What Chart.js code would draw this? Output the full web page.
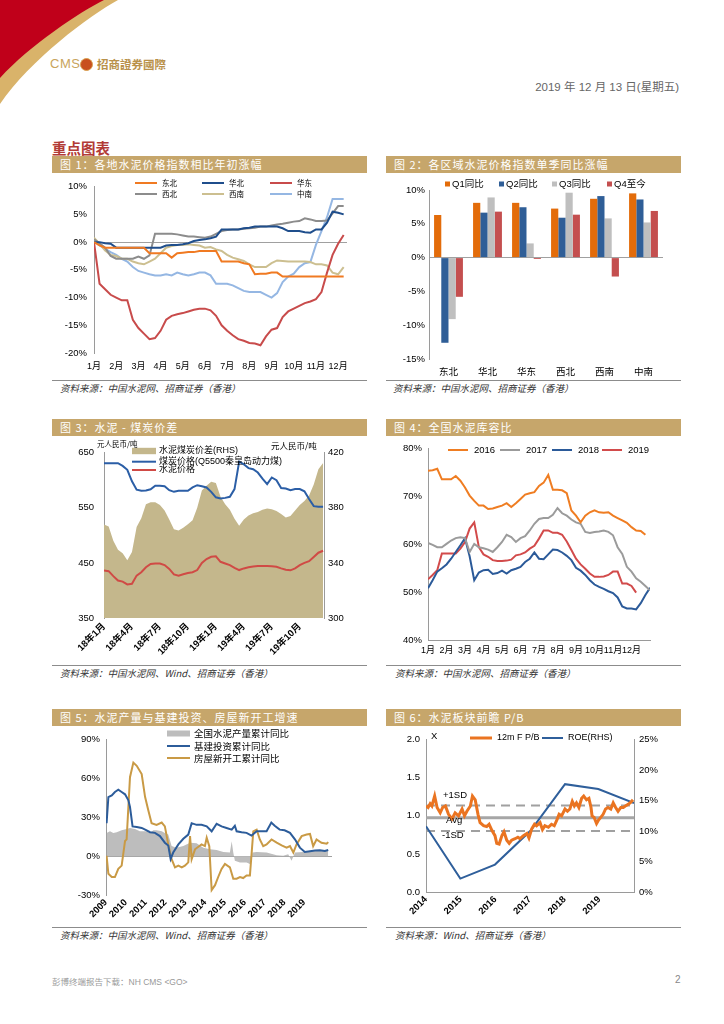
<!DOCTYPE html>
<html>
<head>
<meta charset="utf-8">
<script src="https://cdn.jsdelivr.net/npm/chart.js@4.4.1/dist/chart.umd.min.js"></script>
<style>
body{margin:0;width:724px;height:1024px;position:relative;background:#fff;overflow:hidden;font-family:"Liberation Sans","Noto Sans CJK SC",sans-serif}
.bar{position:absolute;height:17px;background:#C6A66B;color:#fff;font-size:11px;line-height:17px;padding-left:8px;box-sizing:border-box;letter-spacing:1px;font-family:"Noto Sans CJK SC",sans-serif}
.box{position:absolute}
.rule{position:absolute;height:0;border-top:1px solid #8c8c8c}
.src{position:absolute;font-size:9.5px;font-style:italic;color:#333;font-family:"Noto Sans CJK SC",sans-serif;white-space:nowrap}
.unit{position:absolute;font-family:"Noto Sans CJK SC",sans-serif;color:#000;white-space:nowrap}
</style>
</head>
<body>
<svg class="box" style="left:0;top:0" width="130" height="110">
  <path d="M0,0 L118,0 C90,15 30,60 0,104 Z" fill="#D9B36A"/>
  <path d="M0,0 L104,0 C80,12 30,45 0,78 Z" fill="#C0001A"/>
</svg>
<div class="box" style="left:50px;top:56px;font-size:13px;color:#C9A45C;letter-spacing:0.5px">CMS</div>
<div class="box" style="left:80px;top:58px;width:11px;height:11px;border-radius:50%;background:#C8501E;border:1px solid #D9A050"></div>
<div class="box" style="left:97px;top:56px;font-size:11.5px;font-weight:bold;color:#B9914A;font-family:'Noto Sans CJK SC',sans-serif">招商證券國際</div>
<div class="box" style="right:45px;top:78px;font-size:11.5px;color:#666">2019 年 12 月 13 日(星期五)</div>
<div class="box" style="left:52px;top:137px;font-size:14.5px;font-weight:bold;color:#B23B36;font-family:'Noto Sans CJK SC',sans-serif">重点图表</div>

<div class="bar" style="left:52px;top:156px;width:315px">图 1：各地水泥价格指数相比年初涨幅</div>
<div class="bar" style="left:386px;top:156px;width:295px">图 2：各区域水泥价格指数单季同比涨幅</div>
<div class="bar" style="left:52px;top:419px;width:315px">图 3：水泥 - 煤炭价差</div>
<div class="bar" style="left:386px;top:419px;width:295px">图 4：全国水泥库容比</div>
<div class="bar" style="left:52px;top:709px;width:315px">图 5：水泥产量与基建投资、房屋新开工增速</div>
<div class="bar" style="left:386px;top:709px;width:295px">图 6：水泥板块前瞻 P/B</div>

<div class="box" style="left:52px;top:174px;width:315px;height:204px"><canvas id="c1"></canvas></div>
<div class="box" style="left:386px;top:174px;width:295px;height:204px"><canvas id="c2"></canvas></div>
<div class="box" style="left:52px;top:437px;width:315px;height:226px"><canvas id="c3"></canvas></div>
<div class="box" style="left:386px;top:437px;width:295px;height:226px"><canvas id="c4"></canvas></div>
<div class="box" style="left:52px;top:728px;width:315px;height:197px"><canvas id="c5"></canvas></div>
<div class="box" style="left:386px;top:728px;width:295px;height:197px"><canvas id="c6"></canvas></div>

<div class="unit" style="left:97px;top:438px;font-size:7.5px">元人民币/吨</div>
<div class="unit" style="left:271px;top:439px;font-size:8.5px">元人民币/吨</div>

<div class="rule" style="left:52px;top:380px;width:315px"></div>
<div class="rule" style="left:386px;top:380px;width:295px"></div>
<div class="rule" style="left:52px;top:665px;width:315px"></div>
<div class="rule" style="left:386px;top:665px;width:295px"></div>
<div class="rule" style="left:52px;top:927px;width:315px"></div>
<div class="rule" style="left:386px;top:927px;width:295px"></div>
<div class="src" style="left:60px;top:381px">资料来源：中国水泥网、招商证券（香港）</div>
<div class="src" style="left:393px;top:381px">资料来源：中国水泥网、招商证券（香港）</div>
<div class="src" style="left:60px;top:666px">资料来源：中国水泥网、Wind、招商证券（香港）</div>
<div class="src" style="left:395px;top:666px">资料来源：中国水泥网、招商证券（香港）</div>
<div class="src" style="left:60px;top:928px">资料来源：中国水泥网、Wind、招商证券（香港）</div>
<div class="src" style="left:395px;top:928px">资料来源：Wind、招商证券（香港）</div>

<div class="box" style="left:52px;top:975px;font-size:8.5px;color:#999">彭博终端报告下载：NH CMS &lt;GO&gt;</div>
<div class="box" style="left:675px;top:974px;font-size:10px;color:#888">2</div>

<script>
// ---- chart 1: regional price index vs start of year (weekly, x in months)
const monthLabels = ['1月','2月','3月','4月','5月','6月','7月','8月','9月','10月','11月','12月'];
const weekStep = 0.25;
const dongbei = [0,-0.6,-1,-1,-1,-1,-1,-1,-1,-1,-2,-2,-2,-2,-2.8,-2,-1.9,-1.8,-1.8,-1.6,-1.6,-1.6,-1.6,-3.5,-3.5,-3.5,-3.5,-3.8,-4,-5.8,-5.7,-5.7,-5.5,-5.5,-6.2,-6.2,-6.2,-6.2,-6.2,-6.2,-6.2,-6.2,-6.2,-6.2,-6.2,-6.2];
const huabei = [0,0,-0.2,-0.3,-1,-1,-1,-1,-1,-1,-1,-1,-1,-0.6,-0.5,-0.5,-0.4,-0.2,0.2,0.4,0.5,0.7,1.0,2.3,2.3,2.3,2.3,2.5,2.6,2.8,2.8,2.8,2.8,2.8,2.5,2.0,2.0,2.0,1.8,1.7,2.3,2.3,3.5,5.5,5.3,5.0];
const huadong = [0,-7.5,-8.5,-9.5,-10,-10.5,-10.5,-14,-15.5,-16.5,-17.5,-17.3,-16,-14,-13.3,-13,-12.8,-12.5,-12.2,-12,-12,-12.3,-13.3,-15,-16,-16.8,-17.5,-17.8,-18.2,-18.3,-18.6,-17,-15.8,-15.5,-13.5,-12.5,-12,-11.5,-11,-10.7,-10.3,-9,-5.5,-2.3,-0.3,1.3];
const xibei = [0.5,-0.2,-1.0,-2.5,-3,-3,-3,-3,-2.6,-3,-2.4,1.5,1.5,1.5,1.5,1.4,1.2,1.0,1.0,0.9,0.8,1.0,1.5,2.0,2.2,2.3,2.3,2.4,2.5,2.6,2.8,2.8,3.0,3.2,3.3,3.5,3.7,3.8,4.3,4.1,3.8,3.8,3.9,5.2,6.5,6.5];
const xinan = [0.8,-0.3,-1.5,-2.3,-2.5,-3,-3,-3.5,-3.8,-4,-3.5,-3,-2,-1,-0.7,-0.5,-0.5,-0.4,-0.5,-0.6,-1,-0.9,-1.3,-1.6,-2.3,-2.8,-3.1,-3.4,-4.0,-4.5,-4.5,-4.5,-3.8,-3.3,-3.4,-3.5,-3.5,-3.5,-3.5,-3.6,-4,-4,-4.2,-5.5,-5.8,-4.5];
const zhongnan = [0.3,-0.6,-1.2,-1.8,-2.3,-3,-3.5,-4.5,-5.2,-5.5,-5.8,-6,-6,-5.8,-6,-5.5,-5.8,-6,-5.8,-5.5,-5.5,-6,-7.5,-7.5,-7.5,-7.8,-8.3,-8.8,-9,-9,-9,-9.5,-10,-9.2,-7.2,-6.2,-5.7,-4.5,-3.8,-3.6,-0.5,2,4.5,7.8,7.8,7.8];

// ---- chart 2: quarterly yoy by region
const regions = ['东北','华北','华东','西北','西南','中南'];
const quarterNames = ['Q1同比','Q2同比','Q3同比','Q4至今'];
const q1 = [6.3,8.1,8.1,7.25,8.7,9.5];
const q2 = [-12.6,6.65,7.45,5.9,9.1,8.6];
const q3 = [-9.1,8.9,2.1,9.6,5.8,5.2];
const q4 = [-5.8,6.8,-0.2,6.35,-2.8,6.9];

// ---- chart 3: cement - coal spread (half-monthly from Jan 2018)
const c3Ticks = ['18年1月','18年4月','18年7月','18年10月','19年1月','19年4月','19年7月','19年10月'];
const halfMonth = 0.5;
const spread = [367.8,366.5,356,349.5,347,342,348,366,372.5,382.5,384,384,382,378,371.5,364.5,363.5,365.5,368,371,380,392.5,396,399,398,388,382.5,378.5,372,367,371.5,374.5,376,377,378.5,379.5,379,377.6,375.5,373,374,378,382,385,389,397,408,412.5];
const coal = [631,631,631,631,626,619,598,583,581,581.5,583.5,590,590,589,582,579,581,581,581,587,591,589,587,579,569,567,568,570,584,634,629,622,620,614,603,593,605,600,586,585,582,584,584,580,566,553,552,552];
const cement = [436,435,426,418,416,411,412,427,433,442,448,449,449,446,439,429,426.6,429.5,431.5,433,437,450,457,461,462,452,449,446,441,437,440,442,443.5,444.2,444.2,444.2,444,443,440,437.5,436.5,440,446,450,453,460.7,468.5,472];

// ---- chart 4: national cement inventory ratio (weekly)
const yearNames = ['2016','2017','2018','2019'];
const inv2016 = [75.4,75.5,75.8,73.6,73.6,73.6,74.3,73.3,71.9,70.2,69.1,68.1,68.1,67.4,67.5,67.8,68.1,68.6,67.8,68.6,69.5,70.4,70.7,70.9,72.2,72.9,74.5,71.4,71.4,71.3,70.7,67.1,66.0,64.6,66.0,66.7,67.1,66.7,66.6,66.7,66.0,65.5,65.0,64.5,63.6,62.9,62.8,62.0];
const inv2017 = [60.3,59.9,59.4,59.4,60.1,60.8,61.3,61.5,61.3,58.4,60.1,59.4,59.2,58.9,58.4,59.4,60.5,62.0,61.5,60.5,61.3,61.7,62.9,64.3,65.3,65.5,65.5,66.2,67.6,66.5,66.0,65.2,64.6,64.3,62.6,62.4,62.6,62.7,62.9,62.6,61.9,59.4,58.0,55.3,54.3,52.9,52.2,51.3,50.4];
const inv2018 = [50.8,52.5,54.3,55.0,55.8,57.0,58.4,59.8,61.3,57.5,52.5,54.1,54.6,54.7,53.8,54.0,54.5,53.9,54.6,54.9,55.3,56.3,57.0,58.3,57.0,56.9,57.9,58.9,58.8,58.3,57.6,56.7,55.1,54.5,53.6,52.5,51.6,51.1,50.7,50.2,49.8,48.9,47.0,46.6,46.6,46.4,47.7,49.4,50.9];
const inv2019 = [52.7,53.6,54.6,58.1,58.1,58.1,58.1,59.1,60.5,63.3,64.6,59.4,57.9,57.4,56.7,56.5,56.5,56.6,56.8,57.7,57.9,58.3,59.1,59.7,61.2,62.9,62.9,62.4,62.4,62.0,60.6,58.8,57.0,55.8,54.9,53.9,53.2,53.2,53.3,53.6,54.3,54.3,51.8,51.8,51.3,49.9];

// ---- chart 5: output vs infrastructure / housing starts, [years since 2009, %]
const c5Years = ['2009','2010','2011','2012','2013','2014','2015','2016','2017','2018','2019'];
const cementOutput = [[0.03,18],[0.2,19.2],[0.37,18],[0.54,18.5],[0.79,20],[1.04,21],[1.21,21.8],[1.46,21],[1.71,19.2],[2.05,19.2],[2.22,18],[2.39,20],[2.55,20],[2.81,19.2],[2.97,18],[3.14,16.7],[3.31,7.8],[3.56,6.6],[3.9,7.8],[4.24,10.4],[4.57,9.9],[4.91,6.6],[5.24,5.3],[5.58,4.8],[5.92,3.3],[6.25,2.8],[6.34,11.6],[6.42,2.8],[6.5,-3.5],[6.76,-4.8],[7.09,-4.8],[7.26,-6],[7.39,2.8],[7.6,3.3],[8.1,2.8],[8.61,0.8],[8.94,0.3],[9.19,1.5],[9.36,-3.5],[9.53,2.8],[9.95,3.3],[10.45,4],[10.96,4.8],[11.21,4]];
const infraInvest = [[0.03,25.5],[0.12,45.7],[0.29,47],[0.45,49.6],[0.62,51.3],[0.79,49.6],[0.96,47.8],[1.13,43.2],[1.21,38],[1.34,23],[1.55,22.5],[1.8,21.8],[2.05,20],[2.22,18.5],[2.47,18],[2.72,15.5],[2.97,10.4],[3.14,8.3],[3.26,-2.3],[3.39,2.8],[3.65,9.1],[3.9,13.4],[4.15,16.7],[4.32,25.5],[4.57,24.2],[4.82,24.2],[5.08,23],[5.33,19.2],[5.58,25],[5.83,23],[6.08,21.8],[6.34,20.5],[6.5,23.5],[6.59,19.2],[6.84,18.5],[7.09,18],[7.34,15.9],[7.6,19.2],[7.85,19.2],[8.1,19.2],[8.34,26],[8.51,23.5],[8.76,20.5],[9.01,20],[9.28,18],[9.53,13],[9.78,6.6],[10.03,3.3],[10.29,3.8],[10.54,4.3],[10.79,4.5],[11.04,4],[11.21,4.8]];
const housingStarts = [[0.03,0.3],[0.12,-13.6],[0.29,-16.1],[0.45,-16.1],[0.62,-9.8],[0.79,-7.3],[0.96,11.7],[1.04,13],[1.21,61],[1.38,72.3],[1.55,69.8],[1.8,63.5],[1.97,45.9],[2.13,35.6],[2.3,25.5],[2.55,24.2],[2.81,26],[2.97,23],[3.14,9.1],[3.31,-2.3],[3.48,-8.6],[3.65,-7.3],[3.82,-8.6],[3.98,-7.3],[4.15,-4.8],[4.24,15.5],[4.32,-2.3],[4.49,5.3],[4.66,7.3],[4.82,9.1],[4.99,7.8],[5.08,14.2],[5.21,7.8],[5.33,-26.2],[5.5,-22.4],[5.66,-16.1],[5.83,-9.8],[6.0,-6],[6.25,-8.6],[6.42,-17.4],[6.59,-17.4],[6.76,-16.1],[6.92,-16.9],[7.09,-14.9],[7.26,-14.9],[7.43,19.2],[7.6,20.5],[7.76,12.9],[7.93,7.8],[8.1,9.1],[8.35,12.9],[8.61,10.4],[8.86,8.3],[9.11,6.6],[9.28,7.8],[9.45,2.8],[9.61,9.1],[9.87,15.5],[10.12,16.7],[10.29,17.2],[10.45,7.8],[10.62,12.9],[10.87,10.4],[11.13,9.6],[11.21,10.9]];

// ---- chart 6: sector forward P/B, [years since 2014, value]
const c6Years = ['2014','2015','2016','2017','2018','2019'];
const pb12m = [[0,1.13],[0.06,1.11],[0.12,1.16],[0.17,1.13],[0.25,1.26],[0.32,1.11],[0.41,1.04],[0.48,1.11],[0.56,1.13],[0.65,1.02],[0.75,0.96],[0.84,1.04],[0.94,1.0],[1.04,1.09],[1.11,1.0],[1.18,1.06],[1.28,1.13],[1.34,1.26],[1.42,1.21],[1.5,1.02],[1.56,0.91],[1.66,0.87],[1.75,0.86],[1.82,0.89],[1.9,0.81],[1.99,0.74],[2.04,0.64],[2.11,0.63],[2.19,0.74],[2.25,0.79],[2.33,0.68],[2.4,0.64],[2.47,0.68],[2.57,0.70],[2.65,0.72],[2.71,0.70],[2.81,0.74],[2.91,0.77],[2.97,0.71],[3.05,0.83],[3.13,0.89],[3.19,0.87],[3.29,0.91],[3.36,0.82],[3.43,0.87],[3.53,0.85],[3.62,0.89],[3.7,0.87],[3.77,0.94],[3.84,1.02],[3.91,1.0],[4.01,1.09],[4.08,1.06],[4.15,1.09],[4.22,1.19],[4.28,1.13],[4.34,1.17],[4.41,1.11],[4.49,1.23],[4.55,1.26],[4.63,1.21],[4.7,1.23],[4.76,1.11],[4.79,1.0],[4.85,0.98],[4.92,0.90],[4.97,0.94],[5.04,0.98],[5.11,1.02],[5.18,1.09],[5.25,1.11],[5.33,1.09],[5.4,1.17],[5.47,1.11],[5.54,1.06],[5.62,1.11],[5.69,1.11],[5.75,1.13],[5.83,1.15],[5.91,1.18],[5.97,1.21]];
const roe = [[0,10.8],[0.99,2.2],[1.99,4.5],[3.02,10.1],[4.01,17.7],[4.97,16.9],[6.0,14.6]];
const pbPlus1SD = 1.136;
const pbAvg = 0.974;
const pbMinus1SD = 0.80;

const LAT = '"Liberation Sans", "Noto Sans CJK SC", sans-serif';
const CJK = '"Noto Sans CJK SC", sans-serif';
Chart.defaults.font.family = LAT;
Chart.defaults.color = '#000';

function seq(vals, step) { return vals.map((v, i) => ({x: i * step, y: v})); }
function pairs(arr) { return arr.map(p => ({x: p[0], y: p[1]})); }
function flat(v, x0, x1) { return [{x: x0, y: v}, {x: x1, y: v}]; }

// legend drawn in place, items point at datasets
function keyPlugin(items, font) {
  return {
    id: 'key',
    afterDraw(chart) {
      const ctx = chart.ctx;
      ctx.save();
      ctx.font = font;
      ctx.textBaseline = 'middle';
      ctx.textAlign = 'left';
      items.forEach(it => {
        const ds = chart.data.datasets[it.ds];
        if (it.h) {
          ctx.fillStyle = ds.backgroundColor;
          ctx.fillRect(it.x, it.y - it.h, it.w, it.h * 2);
        } else {
          ctx.strokeStyle = ds.borderColor;
          ctx.lineWidth = ds.borderWidth || 2;
          ctx.beginPath();
          ctx.moveTo(it.x, it.y);
          ctx.lineTo(it.x + it.w, it.y);
          ctx.stroke();
        }
        ctx.fillStyle = '#000';
        ctx.fillText(ds.label, it.x + it.w + it.g, it.y);
      });
      ctx.restore();
    }
  };
}
function notesPlugin(notes, font) {
  return {
    id: 'notes',
    afterDraw(chart) {
      const ctx = chart.ctx;
      ctx.save();
      ctx.font = font;
      ctx.fillStyle = '#000';
      ctx.textBaseline = 'middle';
      notes.forEach(n => ctx.fillText(n[0], n[1], n[2]));
      ctx.restore();
    }
  };
}

function baseOpts(pad) {
  return {
    responsive: true, maintainAspectRatio: false, animation: false,
    layout: {padding: pad},
    plugins: {legend: {display: false}, tooltip: {enabled: false}},
    elements: {point: {radius: 0}, line: {borderWidth: 2, tension: 0}}
  };
}
const zeroGrid = {drawTicks: false, color: c => (c.tick && c.tick.value === 0) ? '#A0A0A0' : 'rgba(0,0,0,0)'};
const noGrid = {display: false, drawTicks: false};
const axisLine = {display: true, color: '#9A9A9A'};

// chart 1
let o1 = baseOpts({top: 9, right: 20, left: 0, bottom: 0});
o1.scales = {
  x: {type: 'linear', min: 0, max: 11.4, afterFit: s => { s.height = 25; }, grid: noGrid, border: {display: false},
      ticks: {stepSize: 1, includeBounds: false, autoSkip: false, maxRotation: 0, padding: 8, font: {size: 9}, callback: v => monthLabels[v] || ''}},
  y: {min: -20, max: 10, afterFit: s => { s.width = 42; }, grid: zeroGrid, border: axisLine,
      ticks: {stepSize: 5, padding: 7, font: {size: 9.5}, callback: v => v + '%'}}
};
new Chart(document.getElementById('c1'), {
  type: 'line',
  data: {datasets: [
    {label: '东北', data: seq(dongbei, weekStep), borderColor: '#F07A22', borderWidth: 2},
    {label: '华北', data: seq(huabei, weekStep), borderColor: '#1F4E8C', borderWidth: 2},
    {label: '华东', data: seq(huadong, weekStep), borderColor: '#C84B4B', borderWidth: 2},
    {label: '西北', data: seq(xibei, weekStep), borderColor: '#8C8C8C', borderWidth: 2},
    {label: '西南', data: seq(xinan, weekStep), borderColor: '#CCBF90', borderWidth: 2},
    {label: '中南', data: seq(zhongnan, weekStep), borderColor: '#95B7E3', borderWidth: 2}
  ]},
  options: o1,
  plugins: [keyPlugin([
    {ds: 0, x: 83, y: 9, w: 22, g: 5}, {ds: 1, x: 150, y: 9, w: 22, g: 5}, {ds: 2, x: 218, y: 9, w: 22, g: 5},
    {ds: 3, x: 83, y: 20, w: 22, g: 5}, {ds: 4, x: 150, y: 20, w: 22, g: 5}, {ds: 5, x: 218, y: 20, w: 22, g: 5}
  ], '7.5px ' + CJK)]
});

// chart 2
let o2 = baseOpts({top: 16, right: 18, left: 0, bottom: 0});
o2.scales = {
  x: {type: 'category', afterFit: s => { s.height = 19; }, grid: noGrid, border: {display: false},
      ticks: {padding: 7, font: {size: 9.5, family: CJK}}},
  y: {min: -15, max: 10, afterFit: s => { s.width = 43; }, grid: zeroGrid, border: axisLine,
      ticks: {stepSize: 5, padding: 4, font: {size: 9.5}, callback: v => v + '%'}}
};
const barCommon = {barPercentage: 1, categoryPercentage: 0.74};
new Chart(document.getElementById('c2'), {
  type: 'bar',
  data: {labels: regions, datasets: [
    Object.assign({label: quarterNames[0], data: q1, backgroundColor: '#E36C0A'}, barCommon),
    Object.assign({label: quarterNames[1], data: q2, backgroundColor: '#2F5E97'}, barCommon),
    Object.assign({label: quarterNames[2], data: q3, backgroundColor: '#BFBFBF'}, barCommon),
    Object.assign({label: quarterNames[3], data: q4, backgroundColor: '#C44F4F'}, barCommon)
  ]},
  options: o2,
  plugins: [keyPlugin([
    {ds: 0, x: 59, y: 10, w: 5, h: 2.5, g: 2}, {ds: 1, x: 113, y: 10, w: 5, h: 2.5, g: 2},
    {ds: 2, x: 166, y: 10, w: 5, h: 2.5, g: 2}, {ds: 3, x: 221, y: 10, w: 5, h: 2.5, g: 2}
  ], '9.5px ' + LAT)]
});

// chart 3
let o3 = baseOpts({top: 11, right: 0, left: 0, bottom: 0});
o3.scales = {
  x: {type: 'linear', min: 0, max: 23.6, afterFit: s => { s.height = 45; }, grid: noGrid, border: {display: false},
      ticks: {stepSize: 3, includeBounds: false, autoSkip: false, minRotation: 45, maxRotation: 45, padding: 3,
              font: {size: 9.5, weight: 'bold'}, callback: v => c3Ticks[v / 3] || ''}},
  y: {position: 'left', min: 350, max: 650, afterFit: s => { s.width = 52; }, grid: noGrid, border: axisLine,
      ticks: {stepSize: 100, padding: 10, font: {size: 9.5}}},
  y2: {position: 'right', min: 300, max: 420, afterFit: s => { s.width = 43; }, grid: noGrid, border: axisLine,
      ticks: {stepSize: 40, padding: 4, font: {size: 9.5}}}
};
new Chart(document.getElementById('c3'), {
  type: 'line',
  data: {datasets: [
    {label: '水泥煤炭价差(RHS)', data: seq(spread, halfMonth), yAxisID: 'y2', fill: 'start', backgroundColor: '#C4B78C', borderColor: '#C4B78C', borderWidth: 0, order: 3},
    {label: '煤炭价格(Q5500秦皇岛动力煤)', data: seq(coal, halfMonth), yAxisID: 'y', borderColor: '#2B5EA6', borderWidth: 2, order: 1},
    {label: '水泥价格', data: seq(cement, halfMonth), yAxisID: 'y', borderColor: '#D04A45', borderWidth: 2, order: 1}
  ]},
  options: o3,
  plugins: [keyPlugin([
    {ds: 0, x: 80, y: 14, w: 24, h: 3.2, g: 3}, {ds: 1, x: 80, y: 24.7, w: 24, g: 3}, {ds: 2, x: 80, y: 33, w: 24, g: 3}
  ], '9px ' + LAT)]
});

// chart 4
let o4 = baseOpts({top: 11, right: 31, left: 0, bottom: 0});
o4.scales = {
  x: {type: 'linear', min: 0, max: 12, afterFit: s => { s.height = 23; }, grid: noGrid, border: axisLine,
      ticks: {stepSize: 1, autoSkip: false, maxRotation: 0, padding: 5, font: {size: 9}, callback: v => monthLabels[v] || ''}},
  y: {min: 40, max: 80, afterFit: s => { s.width = 42; }, grid: noGrid, border: axisLine,
      ticks: {stepSize: 10, padding: 6, font: {size: 9.5}, callback: v => v + '%'}}
};
new Chart(document.getElementById('c4'), {
  type: 'line',
  data: {datasets: [
    {label: yearNames[0], data: seq(inv2016, weekStep), borderColor: '#EF7D22', borderWidth: 2},
    {label: yearNames[1], data: seq(inv2017, weekStep), borderColor: '#9B9B9B', borderWidth: 2},
    {label: yearNames[2], data: seq(inv2018, weekStep), borderColor: '#2B5A99', borderWidth: 2},
    {label: yearNames[3], data: seq(inv2019, weekStep), borderColor: '#D24B4B', borderWidth: 2}
  ]},
  options: o4,
  plugins: [keyPlugin([
    {ds: 0, x: 62, y: 13, w: 20, g: 6}, {ds: 1, x: 114, y: 13, w: 20, g: 6},
    {ds: 2, x: 166, y: 13, w: 20, g: 6}, {ds: 3, x: 216, y: 13, w: 20, g: 6}
  ], '9.5px ' + LAT)]
});

// chart 5
let o5 = baseOpts({top: 9, right: 35, left: 0, bottom: 0});
o5.scales = {
  x: {type: 'linear', min: 0, max: 11.4, afterFit: s => { s.height = 30; }, grid: noGrid, border: {display: false},
      ticks: {stepSize: 1, includeBounds: false, autoSkip: false, minRotation: 45, maxRotation: 45, padding: 2,
              font: {size: 9.5, weight: 'bold'}, callback: v => c5Years[v] || ''}},
  y: {min: -30, max: 90, afterFit: s => { s.width = 54; }, grid: zeroGrid, border: axisLine,
      ticks: {stepSize: 30, padding: 6, font: {size: 9.5}, callback: v => v + '%'}}
};
new Chart(document.getElementById('c5'), {
  type: 'line',
  data: {datasets: [
    {label: '全国水泥产量累计同比', data: pairs(cementOutput), fill: 'origin', backgroundColor: '#BDBDBD', borderColor: '#BDBDBD', borderWidth: 0, order: 3},
    {label: '基建投资累计同比', data: pairs(infraInvest), borderColor: '#2C5C9A', borderWidth: 2, order: 1},
    {label: '房屋新开工累计同比', data: pairs(housingStarts), borderColor: '#C99A45', borderWidth: 2, order: 1}
  ]},
  options: o5,
  plugins: [keyPlugin([
    {ds: 0, x: 115, y: 5.5, w: 23, h: 3, g: 4}, {ds: 1, x: 115, y: 18, w: 23, g: 4}, {ds: 2, x: 115, y: 30, w: 23, g: 4}
  ], '9.5px ' + CJK)]
});

// chart 6
let o6 = baseOpts({top: 7, right: 0, left: 0, bottom: 0});
o6.scales = {
  x: {type: 'linear', min: 0, max: 6, afterFit: s => { s.height = 33; }, grid: noGrid, border: axisLine,
      ticks: {stepSize: 1, autoSkip: false, minRotation: 45, maxRotation: 45, padding: 2,
              font: {size: 9.5, weight: 'bold'}, callback: v => c6Years[v] || ''}},
  y: {position: 'left', min: 0, max: 2, afterFit: s => { s.width = 40; }, grid: noGrid, border: axisLine,
      ticks: {stepSize: 0.5, padding: 6, font: {size: 9.5}, callback: v => v.toFixed(1)}},
  y2: {position: 'right', min: 0, max: 25, afterFit: s => { s.width = 47; }, grid: noGrid, border: axisLine,
      ticks: {stepSize: 5, padding: 5, font: {size: 9.5}, callback: v => v + '%'}}
};
new Chart(document.getElementById('c6'), {
  type: 'line',
  data: {datasets: [
    {label: '12m F P/B', data: pairs(pb12m), yAxisID: 'y', borderColor: '#EA7421', borderWidth: 3, order: 1},
    {label: 'ROE(RHS)', data: pairs(roe), yAxisID: 'y2', borderColor: '#2F5F9B', borderWidth: 2, order: 2},
    {label: '+1SD', data: flat(pbPlus1SD, 0, 6), yAxisID: 'y', borderColor: '#A0A0A0', borderWidth: 2, borderDash: [9, 6], order: 3},
    {label: 'Avg', data: flat(pbAvg, 0, 6), yAxisID: 'y', borderColor: '#A6A6A6', borderWidth: 3, order: 3},
    {label: '-1SD', data: flat(pbMinus1SD, 0, 6), yAxisID: 'y', borderColor: '#A0A0A0', borderWidth: 2, borderDash: [9, 6], order: 3}
  ]},
  options: o6,
  plugins: [
    keyPlugin([{ds: 0, x: 84, y: 10, w: 22, g: 5}, {ds: 1, x: 156, y: 10, w: 21, g: 5}], '9px ' + LAT),
    notesPlugin([['X', 45, 8], ['+1SD', 57, 67], ['Avg', 60, 92], ['-1SD', 56, 107]], '9.5px ' + LAT)
  ]
});
</script>
</body>
</html>
